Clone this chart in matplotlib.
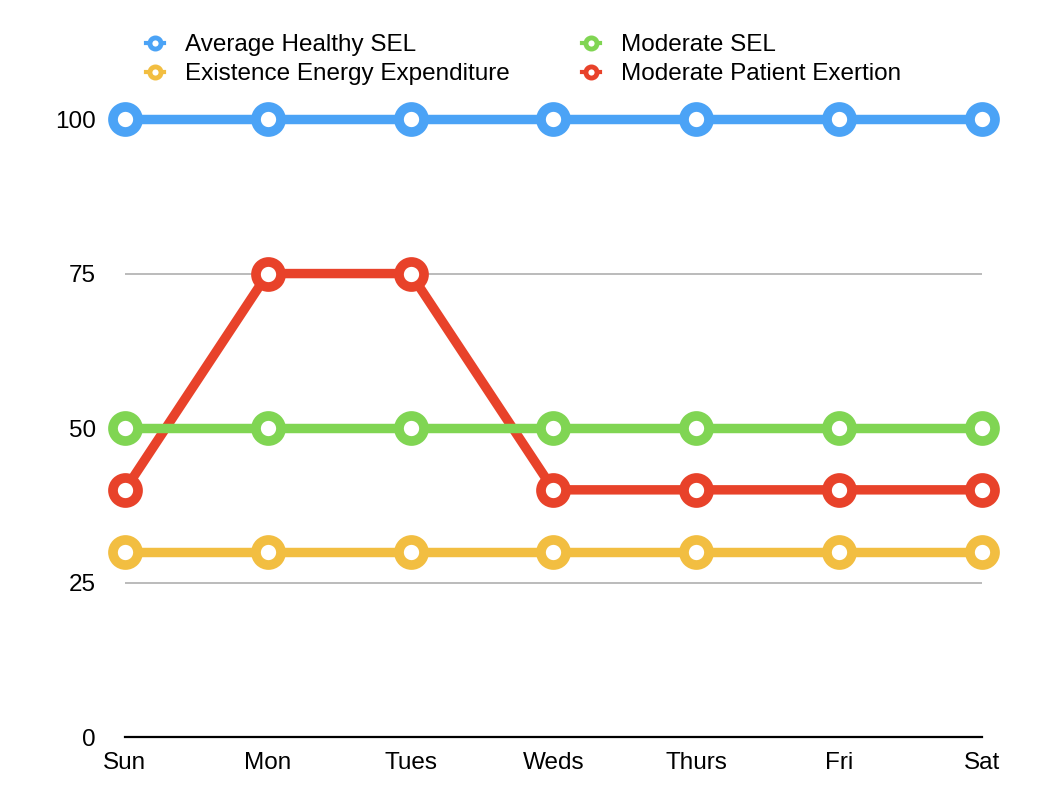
import matplotlib as mpl
import matplotlib.pyplot as plt
from matplotlib.lines import Line2D

mpl.rcParams.update({
    "font.family": ["Liberation Sans", "DejaVu Sans"],
    "font.size": 17.5,
})

days = ["Sun", "Mon", "Tues", "Weds", "Thurs", "Fri", "Sat"]
avg_healthy_sel = [100, 100, 100, 100, 100, 100, 100]
existence_energy = [30, 30, 30, 30, 30, 30, 30]
moderate_sel = [50, 50, 50, 50, 50, 50, 50]
moderate_patient = [40, 75, 75, 40, 40, 40, 40]
yticks = [0, 25, 50, 75, 100]

BLUE, YELLOW, GREEN, RED = "#4BA3F6", "#F2BE41", "#80D553", "#E8422A"

fig = plt.figure(figsize=(10.44, 8.10), dpi=100)
ax = fig.add_axes([0.1197, 0.0901, 0.8209, 0.7629])

x = list(range(len(days)))
# draw order: red under green (green crosses over it)
series = [
    (moderate_patient, RED),
    (existence_energy, YELLOW),
    (moderate_sel, GREEN),
    (avg_healthy_sel, BLUE),
]
for vals, col in series:
    ax.plot(x, vals, color=col, lw=6.8, marker="o", ms=18, mew=7,
            mfc="white", mec=col, clip_on=False, zorder=3,
            solid_capstyle="butt")

ax.set_xlim(0, 6)
ax.set_ylim(0, 100)
ax.set_xticks(x)
ax.set_xticklabels(days)
ax.set_yticks(yticks)
ax.tick_params(length=0)
ax.tick_params(axis="x", pad=11)
ax.tick_params(axis="y", pad=21)
for s in ["top", "right", "left"]:
    ax.spines[s].set_visible(False)
ax.spines["bottom"].set_color("black")
ax.spines["bottom"].set_linewidth(1.6)
for yv in [25, 50, 75]:
    ax.axhline(yv, color="#BBBBBB", lw=1.4, zorder=1)

def handle(col):
    return Line2D([], [], color=col, lw=3, marker="o", ms=8, mew=3.5,
                  mfc="white", mec=col)

handles = [handle(BLUE), handle(YELLOW), handle(GREEN), handle(RED)]
labels = ["Average Healthy SEL", "Existence Energy Expenditure",
          "Moderate SEL", "Moderate Patient Exertion"]
fig.legend(handles, labels, ncol=2, loc="upper left",
           bbox_to_anchor=(0.1186, 0.985), frameon=False,
           handlelength=0.75, handletextpad=0.85, columnspacing=3.0,
           labelspacing=0.3, fontsize=17.5)

fig.savefig("out.png", dpi=100)
